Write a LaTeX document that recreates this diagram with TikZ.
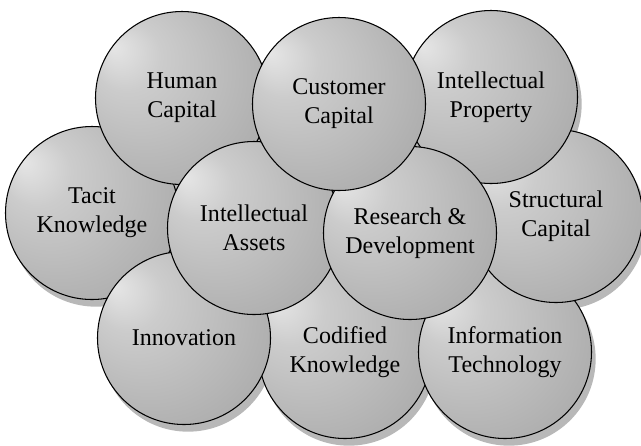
\documentclass[tikz,border=0pt]{standalone}
\usepackage{fontspec}
\setmainfont{Liberation Serif}
\usepackage{tikz}
\usetikzlibrary{positioning}
\definecolor{spherehi}{gray}{0.9}
\definecolor{spheremid}{gray}{0.8}
\definecolor{spherelo}{gray}{0.68}
\definecolor{sphererim}{gray}{0.52}
\definecolor{shadowgray}{gray}{0.72}
\pgfdeclareradialshading{sphere}{\pgfpoint{-20bp}{15bp}}{color(0bp)=(spherehi); color(10bp)=(spheremid); color(34bp)=(spherelo); color(50bp)=(sphererim)}

\begin{document}
\begin{tikzpicture}[on grid, bubble/.style={circle, draw=black, line width=0.9pt, shading=sphere, minimum size=5.19cm, inner sep=0pt, align=center, font=\fontsize{20.5}{24.8}\selectfont}]
	\useasboundingbox (0,0) rectangle (19.23,-13.35);
	% centres of the bubbles
	\coordinate (tacit-c) at (2.76,-6.39);
	\coordinate [below right=3.75cm and 2.76cm of tacit-c] (innovation-c);
	\coordinate [below right=0.42cm and 4.83cm of innovation-c] (codified-c);
	\coordinate [right=4.8cm of codified-c] (it-c);
	\coordinate [above right=4.08cm and 1.53cm of it-c] (structural-c);
	\coordinate [above left=3.57cm and 1.95cm of structural-c] (ip-c);
	\coordinate [below right=0.45cm and 4.86cm of tacit-c] (ia-c);
	\coordinate [above left=3.9cm and 2.16cm of ia-c] (human-c);
	\coordinate [below right=0.15cm and 4.68cm of ia-c] (rd-c);
	\coordinate [below right=0.18cm and 4.71cm of human-c] (customer-c);
	% shadows go underneath everything
	\foreach \b in {tacit,codified,it,structural,ip,human,innovation,ia,rd,customer}
		\fill [shadowgray] ([xshift=0.12cm, yshift=-0.21cm]\b-c) circle (2.6cm);
	% back to front
	\node [bubble] (tacit) at (tacit-c) {Tacit\\Knowledge};
	\node [bubble] (codified) at (codified-c) {Codified\\Knowledge};
	\node [bubble] (it) at (it-c) {Information\\Technology};
	\node [bubble] (structural) at (structural-c) {Structural\\Capital};
	\node [bubble] (ip) at (ip-c) {Intellectual\\Property};
	\node [bubble] (human) at (human-c) {Human\\Capital};
	\node [bubble] (innovation) at (innovation-c) {Innovation};
	\node [bubble] (ia) at (ia-c) {Intellectual\\Assets};
	\node [bubble] (rd) at (rd-c) {Research \&\\Development};
	\node [bubble] (customer) at (customer-c) {Customer\\Capital};
\end{tikzpicture}
\end{document}
